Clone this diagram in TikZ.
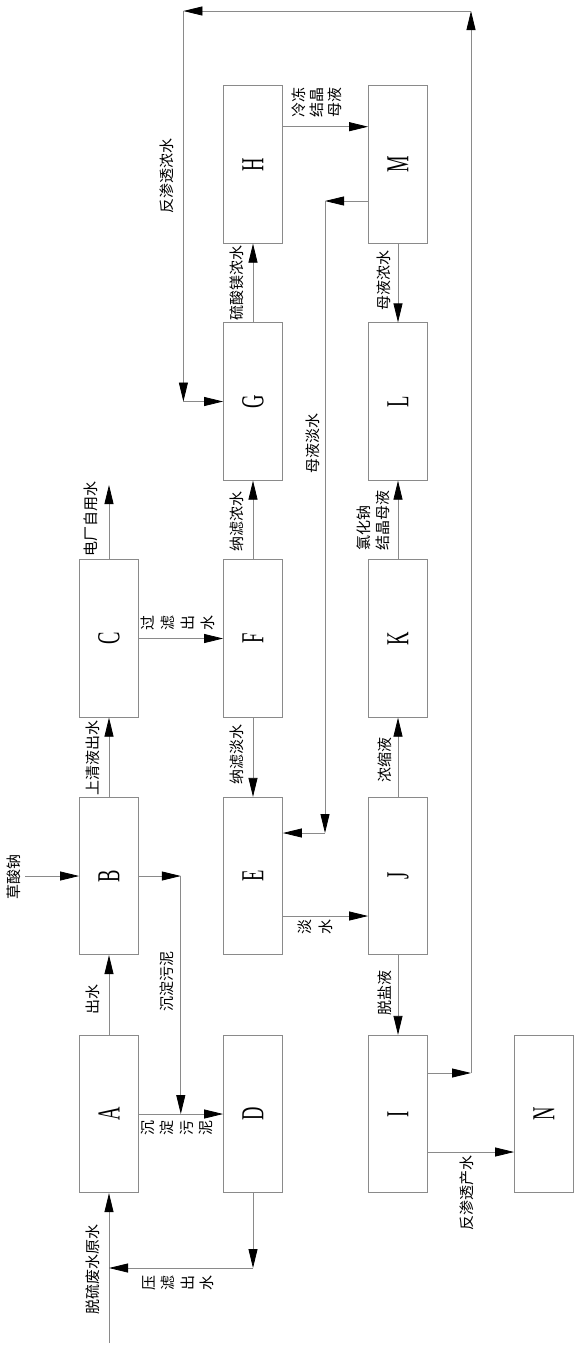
\documentclass[tikz,border=0pt]{standalone}
\usepackage{fontspec}
\setmainfont{Liberation Serif}
\newfontfamily\cjk{Noto Sans CJK SC}
\usetikzlibrary{arrows.meta}
\definecolor{linegray}{HTML}{8A8A8A}
\newcommand\bxl[1]{\rotatebox{90}{\scalebox{0.58}[1]{\fontsize{32}{32}\selectfont #1}}}
\begin{document}
\begin{tikzpicture}[x=1pt,y=-1pt,
  box/.style={draw=linegray, line width=0.8pt, minimum width=59pt, minimum height=157.5pt, inner sep=0pt},
  lbl/.style={rotate=90, font=\cjk\fontsize{15}{19.5}\selectfont, inner sep=0pt, align=center},
  ln/.style={draw=linegray, line width=0.8pt},
  arr/.style={draw=linegray, line width=0.8pt, -{Triangle[length=19pt,width=9pt,color=black]}}]
\useasboundingbox (0,0) rectangle (578,1352);
% boxes
\node[box] (H) at (253,164.5) {\bxl{H}};
\node[box] (M) at (398,164.5) {\bxl{M}};
\node[box] (G) at (253,401.5) {\bxl{G}};
\node[box] (L) at (398,401.5) {\bxl{L}};
\node[box] (C) at (109,638.5) {\bxl{C}};
\node[box] (F) at (253,638.5) {\bxl{F}};
\node[box] (K) at (398,638.5) {\bxl{K}};
\node[box] (B) at (109,876) {\bxl{B}};
\node[box] (E) at (253,876) {\bxl{E}};
\node[box] (J) at (398,876) {\bxl{J}};
\node[box] (A) at (109,1114) {\bxl{A}};
\node[box] (D) at (253,1114) {\bxl{D}};
\node[box] (I) at (398,1114) {\bxl{I}};
\node[box] (N) at (544,1114) {\bxl{N}};
% free coordinates
\coordinate (raw) at (109,1343);
\coordinate (cout) at (109,485);
\coordinate (cao) at (25,876);
\coordinate (s1) at (180.8,876);
\coordinate (s2) at (180.8,1114);
\coordinate (p1) at (253,1268);
\coordinate (p2) at (109,1268);
\coordinate (m1) at (325,201);
\coordinate (m2) at (325,833);
\coordinate (r1) at (471,1073);
\coordinate (r2) at (471,11);
\coordinate (r3) at (183.4,11);
\coordinate (r4) at (183.4,401.5);
% connectors
\draw[arr] (raw) -- (A.south);
\draw[arr] (A.north) -- (B.south);
\draw[arr] (B.north) -- (C.south);
\draw[arr] (C.north) -- (cout);
\draw[arr] (cao) -- (B.west);
\draw[arr] (B.east) -- (s1);
\draw[arr] (s1) -- (s2);
\draw[arr] (A.east) -- (D.west);
\draw[arr] (D.south) -- (p1);
\draw[arr] (p1) -- (p2);
\draw[arr] (C.east) -- (F.west);
\draw[arr] (F.north) -- (G.south);
\draw[arr] (G.north) -- (H.south);
\draw[arr] ([yshift=37.8pt]H.east) -- ([yshift=37.8pt]M.west);
\draw[arr] ([yshift=-36.5pt]M.west) -- (m1);
\draw[arr] (m1) -- (m2);
\draw[arr] (m2) -- ([yshift=43pt]E.east);
\draw[arr] (M.south) -- (L.north);
\draw[arr] (K.north) -- (L.south);
\draw[arr] (J.north) -- (K.south);
\draw[arr] (F.south) -- (E.north);
\draw[arr] ([yshift=-40pt]E.east) -- ([yshift=-40pt]J.west);
\draw[arr] (J.south) -- (I.north);
\draw[arr] ([yshift=41pt]I.east) -- (r1);
\draw[arr] (r1) -- (r2);
\draw[arr] (r2) -- (r3);
\draw[arr] (r3) -- (r4);
\draw[arr] (r4) -- (G.west);
\draw[arr] ([yshift=-38pt]I.east) -- ([yshift=-38pt]N.west);
% labels
\node[lbl] (t1) at (166.7,176) {反渗透浓水};
\node[lbl,font=\cjk\fontsize{15}{18}\selectfont] (t2) at (317,102) {冷冻\\结晶\\母液};
\node[lbl] (t3) at (237,282.5) {硫酸镁浓水};
\node[lbl] (t4) at (383.5,280) {母液浓水};
\node[lbl] (t5) at (90.8,519) {电厂自用水};
\node[lbl,font=\cjk\fontsize{15}{20}\selectfont] (t6) at (178,623) {过\\滤\\出\\水};
\node[lbl] (t7) at (237,521.5) {纳滤浓水};
\node[lbl] (t8) at (313,443) {母液淡水};
\node[lbl,align=left] (t9) at (373.5,520) {氯化钠\\结晶母液};
\node[lbl] (t10) at (92.6,757.5) {上清液出水};
\node[lbl] (t11) at (237,754) {纳滤淡水};
\node[lbl,font=\cjk\fontsize{15}{21}\selectfont] (t12) at (315.5,927) {淡\\水};
\node[lbl] (t13) at (385,760) {浓缩液};
\node[lbl] (t14) at (166.7,981.7) {沉淀污泥};
\node[lbl] (t15) at (385,992.5) {脱盐液};
\node[lbl] (t16) at (92.6,999) {出水};
\node[lbl,font=\cjk\fontsize{15}{19.5}\selectfont] (t17) at (177,1128) {沉\\淀\\污\\泥};
\node[lbl,font=\cjk\fontsize{15}{19.5}\selectfont] (t18) at (178,1283) {压\\滤\\出\\水};
\node[lbl] (t19) at (92.6,1269) {脱硫废水原水};
\node[lbl] (t20) at (466.8,1192.5) {反渗透产水};
\node[lbl] (t21) at (13.5,877) {草酸钠};
\end{tikzpicture}
\end{document}
